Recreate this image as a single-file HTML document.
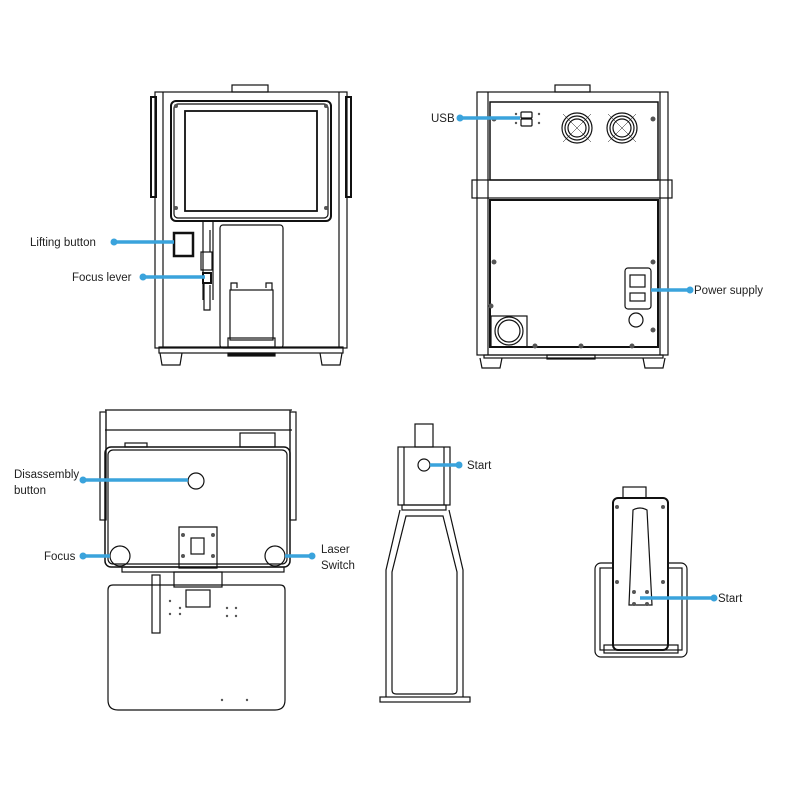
<!DOCTYPE html>
<html><head><meta charset="utf-8"><style>
html,body{margin:0;padding:0;background:#fff}
svg{display:block}
text{font-family:"Liberation Sans",sans-serif;font-size:11.5px;fill:#222}
</style></head><body>
<svg width="800" height="800" viewBox="0 0 800 800" xmlns="http://www.w3.org/2000/svg">
<g fill="none" stroke="#111" stroke-width="1.2">
<!-- Top-left front view -->
<rect x="232" y="85" width="36" height="7"/>
<rect x="155" y="92" width="192" height="256"/>
<line x1="163" y1="92" x2="163" y2="348"/><line x1="339" y1="92" x2="339" y2="348"/>
<rect x="151" y="97" width="5" height="100" stroke-width="2"/>
<rect x="346" y="97" width="5" height="100" stroke-width="2"/>
<rect x="171" y="101" width="160" height="120" rx="5" stroke-width="2"/>
<rect x="174" y="104" width="154" height="114" rx="4"/>
<rect x="185" y="111" width="132" height="100" stroke-width="1.8"/>
<rect x="174" y="233" width="19" height="23" stroke-width="2.5"/>
<path d="M203 221 V300 M213 221 V300 M210 230 V252"/>
<rect x="201" y="252" width="11" height="18"/>
<rect x="203" y="273" width="8" height="10" stroke-width="2"/>
<path d="M204 283 V310 H210 V285"/>
<rect x="220" y="225" width="63" height="123" rx="3"/>
<rect x="230" y="290" width="43" height="50"/>
<path d="M231 290 V283 H237 V288 M266 288 V283 H272 V290"/>
<rect x="228" y="338" width="47" height="9"/>
<rect x="159" y="347" width="184" height="6"/>
<rect x="228" y="353" width="47" height="3" fill="#111"/>
<path d="M160 353 L162 365 H180 L182 353 M320 353 L322 365 H340 L342 353"/>
<!-- Top-right back view -->
<rect x="555" y="85" width="35" height="7"/>
<rect x="477" y="92" width="191" height="263"/>
<line x1="488" y1="92" x2="488" y2="355"/><line x1="660" y1="92" x2="660" y2="355"/>
<rect x="490" y="102" width="168" height="78" stroke-width="1.5"/>
<rect x="472" y="180" width="200" height="18"/>
<rect x="490" y="200" width="168" height="147" stroke-width="2"/>
<circle cx="577" cy="128" r="15"/><circle cx="577" cy="128" r="12"/><circle cx="577" cy="128" r="9"/>
<circle cx="622" cy="128" r="15"/><circle cx="622" cy="128" r="12"/><circle cx="622" cy="128" r="9"/>
<path d="M563 114 L591 142 M591 114 L563 142 M608 114 L636 142 M636 114 L608 142" stroke-width="0.5"/>
<rect x="521" y="112" width="11" height="6" rx="1"/><rect x="521" y="119" width="11" height="7" rx="1"/>
<rect x="625" y="268" width="26" height="41" rx="3"/>
<rect x="630" y="275" width="15" height="12"/><rect x="630" y="293" width="15" height="8"/>
<circle cx="636" cy="320" r="7"/>
<rect x="491" y="316" width="36" height="31"/>
<circle cx="509" cy="331" r="14"/><circle cx="509" cy="331" r="11"/>
<rect x="484" y="355" width="179" height="3"/>
<path d="M480 358 L482 368 H500 L502 358 M643 358 L645 368 H663 L665 358"/>
<rect x="547" y="355" width="48" height="4"/>
<!-- Bottom-left top view -->
<path d="M105 410 H292 M105 430 H292 M106 410 V520 M290 410 V520"/>
<rect x="100" y="412" width="6" height="108"/><rect x="290" y="412" width="6" height="108"/>
<rect x="240" y="433" width="35" height="14"/><rect x="125" y="443" width="22" height="4"/>
<rect x="105" y="447" width="185" height="120" rx="6" stroke-width="1.5"/>
<rect x="108" y="450" width="179" height="114" rx="5"/>
<circle cx="196" cy="481" r="8"/>
<circle cx="120" cy="556" r="10"/><circle cx="275" cy="556" r="10"/>
<path d="M179 527 H217 V568 H179 Z"/>
<rect x="191" y="538" width="13" height="16"/>
<rect x="122" y="567" width="162" height="5"/>
<path d="M108 590 Q108 585 113 585 H280 Q285 585 285 590 V700 Q285 710 275 710 H118 Q108 710 108 700 Z"/>
<rect x="152" y="575" width="8" height="58"/>
<rect x="174" y="572" width="48" height="15"/>
<rect x="186" y="590" width="24" height="17"/>
<!-- Bottom-middle side view -->
<rect x="415" y="424" width="18" height="23"/>
<rect x="398" y="447" width="52" height="58"/>
<line x1="404" y1="447" x2="404" y2="505"/><line x1="444" y1="447" x2="444" y2="505"/>
<circle cx="424" cy="465" r="6"/>
<rect x="402" y="505" width="44" height="5"/>
<path d="M400 510 L386 570 V697 M449 510 L463 570 V697"/>
<path d="M406 516 H443 L457 572 V690 Q457 694 453 694 H396 Q392 694 392 690 V572 Z"/>
<rect x="380" y="697" width="90" height="5"/>
<!-- Bottom-right end view -->
<rect x="623" y="487" width="23" height="11"/>
<rect x="595" y="563" width="92" height="94" rx="6"/>
<rect x="600" y="568" width="82" height="82"/>
<rect x="613" y="498" width="55" height="152" rx="5" fill="#fff" stroke-width="2"/>
<path d="M633 510 Q640 506 647 510 L652 605 H629 Z"/>
<rect x="604" y="645" width="74" height="8"/>
</g>
<g fill="#555">
<circle cx="176" cy="106" r="2"/><circle cx="326" cy="106" r="2"/><circle cx="176" cy="208" r="2"/><circle cx="326" cy="208" r="2"/>
<circle cx="494" cy="119" r="2.5"/><circle cx="653" cy="119" r="2.5"/><circle cx="494" cy="262" r="2.5"/><circle cx="653" cy="262" r="2.5"/>
<circle cx="491" cy="306" r="2.5"/><circle cx="653" cy="330" r="2.5"/><circle cx="581" cy="346" r="2.5"/><circle cx="632" cy="346" r="2.5"/>
<circle cx="535" cy="346" r="2.5"/>
<circle cx="516" cy="114" r="1.2"/><circle cx="516" cy="123" r="1.2"/><circle cx="539" cy="114" r="1.2"/><circle cx="539" cy="123" r="1.2"/>
<circle cx="183" cy="535" r="2"/><circle cx="213" cy="535" r="2"/><circle cx="183" cy="556" r="2"/><circle cx="213" cy="556" r="2"/>
<circle cx="170" cy="601" r="1.2"/><circle cx="180" cy="608" r="1.2"/><circle cx="180" cy="614" r="1.2"/><circle cx="170" cy="614" r="1.2"/>
<circle cx="227" cy="608" r="1.2"/><circle cx="236" cy="608" r="1.2"/><circle cx="227" cy="616" r="1.2"/><circle cx="236" cy="616" r="1.2"/>
<circle cx="222" cy="700" r="1.2"/><circle cx="247" cy="700" r="1.2"/>
<circle cx="617" cy="507" r="2"/><circle cx="663" cy="507" r="2"/><circle cx="617" cy="582" r="2"/><circle cx="663" cy="582" r="2"/>
<circle cx="634" cy="592" r="2"/><circle cx="647" cy="592" r="2"/><circle cx="634" cy="604" r="2"/><circle cx="647" cy="604" r="2"/>
</g>
<!-- Callouts -->
<g stroke="#3aa3dc" stroke-width="3.5">
<line x1="114" y1="242" x2="174" y2="242"/>
<line x1="143" y1="277" x2="205" y2="277"/>
<line x1="460" y1="118" x2="520" y2="118"/>
<line x1="651" y1="290" x2="690" y2="290"/>
<line x1="83" y1="480" x2="188" y2="480"/>
<line x1="83" y1="556" x2="110" y2="556"/>
<line x1="285" y1="556" x2="312" y2="556"/>
<line x1="430" y1="465" x2="459" y2="465"/>
<line x1="640" y1="598" x2="714" y2="598"/>
</g>
<g fill="#3aa3dc">
<circle cx="114" cy="242" r="3.5"/><circle cx="143" cy="277" r="3.5"/><circle cx="460" cy="118" r="3.5"/>
<circle cx="690" cy="290" r="3.5"/><circle cx="83" cy="480" r="3.5"/><circle cx="83" cy="556" r="3.5"/>
<circle cx="312" cy="556" r="3.5"/><circle cx="459" cy="465" r="3.5"/><circle cx="714" cy="598" r="3.5"/>
</g>
<text x="30" y="246">Lifting button</text>
<text x="72" y="281">Focus lever</text>
<text x="431" y="122">USB</text>
<text x="694" y="294">Power supply</text>
<text x="14" y="478">Disassembly</text>
<text x="14" y="494">button</text>
<text x="44" y="560">Focus</text>
<text x="321" y="553">Laser</text>
<text x="321" y="569">Switch</text>
<text x="467" y="469">Start</text>
<text x="718" y="602">Start</text>
</svg>
</body></html>
